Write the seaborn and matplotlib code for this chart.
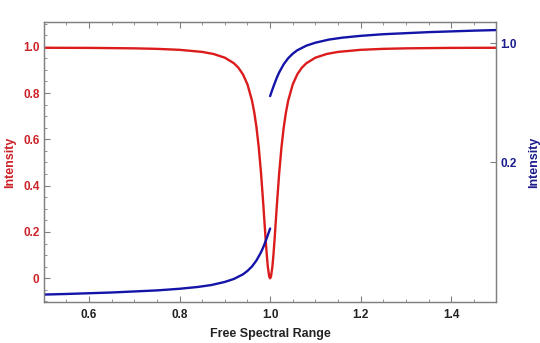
import matplotlib
matplotlib.use("Agg")
import matplotlib.pyplot as plt
from matplotlib.ticker import MultipleLocator, FixedLocator
import seaborn as sns
import pandas as pd

# Reflected intensity (left axis) across one free spectral range
fsr_red = [0.50, 0.60, 0.70, 0.75, 0.80, 0.85, 0.875, 0.90, 0.92, 0.93, 0.94, 0.95,
           0.96, 0.965, 0.97, 0.975, 0.98, 0.985, 0.9875, 0.99, 0.9925, 0.995, 0.998, 1.00,
           1.002, 1.005, 1.0075, 1.01, 1.0125, 1.015, 1.02, 1.025, 1.03, 1.035, 1.04,
           1.05, 1.06, 1.07, 1.08, 1.10, 1.125, 1.15, 1.20, 1.25, 1.30, 1.40, 1.50]
intensity_red = [0.9953, 0.9948, 0.9928, 0.9906, 0.9864, 0.9774, 0.9685, 0.9525, 0.9285,
                 0.9090, 0.8806, 0.8371, 0.7674, 0.7166, 0.6503, 0.5638, 0.4529, 0.3179,
                 0.2445, 0.1716, 0.1044, 0.0493, 0.0082, 0.0,
                 0.0082, 0.0493, 0.1044, 0.1716, 0.2445, 0.3179, 0.4529, 0.5638, 0.6503,
                 0.7166, 0.7674, 0.8371, 0.8806, 0.9090, 0.9285, 0.9525, 0.9685, 0.9774,
                 0.9864, 0.9906, 0.9928, 0.9948, 0.9953]

# Right-axis curve, two branches split at the resonance
fsr_blue_lo = [0.50, 0.55, 0.60, 0.65, 0.70, 0.75, 0.80, 0.84, 0.87, 0.90, 0.92, 0.94,
               0.95, 0.96, 0.97, 0.98, 0.985, 0.99, 0.995, 1.00]
intensity_blue_lo = [-0.689, -0.685, -0.680, -0.675, -0.668, -0.661, -0.650, -0.638,
                     -0.625, -0.604, -0.584, -0.553, -0.530, -0.500, -0.459, -0.404,
                     -0.370, -0.331, -0.289, -0.245]
fsr_blue_hi = [1.00, 1.005, 1.01, 1.015, 1.02, 1.03, 1.04, 1.05, 1.06, 1.08, 1.10, 1.13,
               1.16, 1.20, 1.25, 1.30, 1.35, 1.40, 1.45, 1.50]
intensity_blue_hi = [0.645, 0.689, 0.731, 0.770, 0.804, 0.859, 0.900, 0.930, 0.953, 0.984,
                     1.004, 1.025, 1.038, 1.050, 1.061, 1.068, 1.075, 1.080, 1.085, 1.089]

left_ticks = [0.0, 0.2, 0.4, 0.6, 0.8, 1.0]
left_labels = ["0", "0.2", "0.4", "0.6", "0.8", "1.0"]
right_ticks = [0.2, 1.0]
right_labels = ["0.2", "1.0"]
x_ticks = [0.6, 0.8, 1.0, 1.2, 1.4]
x_labels = ["0.6", "0.8", "1.0", "1.2", "1.4"]

RED = "#dc1c1c"
BLUE = "#1414a8"
RED_TXT = "#cc2229"
BLUE_TXT = "#1c1c8c"
FRAME = "#808080"

sns.set_style("white")
plt.rcParams["font.family"] = ["Liberation Sans", "DejaVu Sans"]
plt.rcParams["font.weight"] = "bold"

fig = plt.figure(figsize=(5.40, 3.43), dpi=100)
ax = fig.add_axes([0.081, 0.1195, 0.8384, 0.8164])
ax2 = ax.twinx()

red_df = pd.DataFrame({"fsr": fsr_red, "I": intensity_red})
lo_df = pd.DataFrame({"fsr": fsr_blue_lo, "I": intensity_blue_lo})
hi_df = pd.DataFrame({"fsr": fsr_blue_hi, "I": intensity_blue_hi})

sns.lineplot(data=red_df, x="fsr", y="I", ax=ax, color=RED, lw=1.7, sort=False)
sns.lineplot(data=lo_df, x="fsr", y="I", ax=ax2, color=BLUE, lw=1.7, sort=False)
sns.lineplot(data=hi_df, x="fsr", y="I", ax=ax2, color=BLUE, lw=1.7, sort=False)

ax.set_xlim(0.5, 1.5)
ax.set_ylim(-0.1023, 1.1066)
ax2.set_ylim(-0.739, 1.1432)

ax.set_xticks(x_ticks)
ax.set_xticklabels(x_labels, fontsize=8.5, fontweight="bold", color="#222222")
ax.xaxis.set_minor_locator(MultipleLocator(0.05))
ax.set_yticks(left_ticks)
ax.set_yticklabels(left_labels, fontsize=8.5, fontweight="bold", color=RED_TXT)
ax.yaxis.set_minor_locator(MultipleLocator(0.05))
ax.tick_params(which="major", direction="in", length=4, width=0.8, color=FRAME,
               top=True, bottom=True, left=True, right=False, pad=3)
ax.tick_params(axis="x", which="major", pad=5)
ax.tick_params(which="minor", direction="in", length=2.2, width=0.6, color=FRAME,
               top=True, bottom=True, left=True, right=False)

ax2.yaxis.set_major_locator(FixedLocator(right_ticks))
ax2.set_yticklabels(right_labels, fontsize=8.5, fontweight="bold", color=BLUE_TXT)
ax2.tick_params(which="major", direction="in", length=4, width=0.8, color=FRAME, pad=3)

for a in (ax, ax2):
    for s in a.spines.values():
        s.set_color(FRAME)
        s.set_linewidth(0.9)
        s.set_visible(True)

ax.set_xlabel("Free Spectral Range", fontsize=9, fontweight="bold", color="#222222",
              labelpad=5)
ax.set_ylabel("Intensity", fontsize=9, fontweight="bold", color=RED_TXT, labelpad=5)
ax2.set_ylabel("Intensity", fontsize=9, fontweight="bold", color=BLUE_TXT, labelpad=8)

fig.savefig("out.png", dpi=100, facecolor="white")
